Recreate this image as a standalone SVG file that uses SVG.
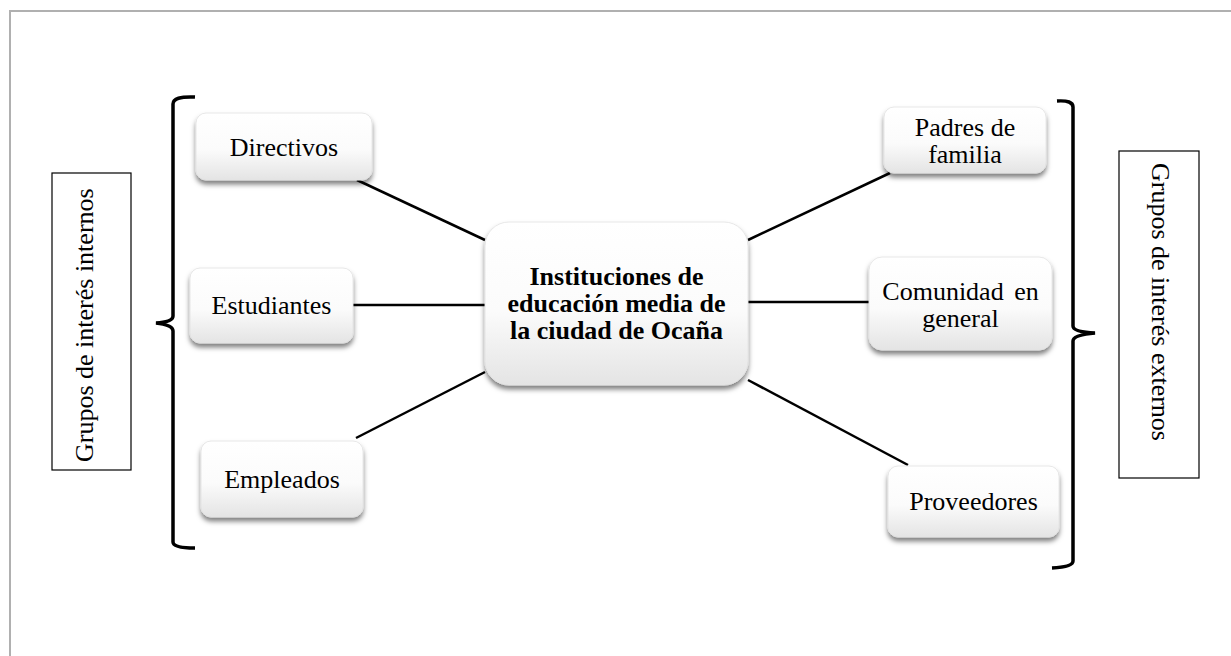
<svg xmlns="http://www.w3.org/2000/svg" width="1231" height="656" viewBox="0 0 1231 656">
<defs>
<linearGradient id="g" x1="0" y1="0" x2="0" y2="1">
<stop offset="0" stop-color="#ffffff"/>
<stop offset="0.55" stop-color="#fbfbfb"/>
<stop offset="1" stop-color="#e4e4e4"/>
</linearGradient>
<filter id="sh" x="-10%" y="-10%" width="120%" height="135%">
<feDropShadow dx="0" dy="4" stdDeviation="2.5" flood-color="#000" flood-opacity="0.5"/>
</filter>
</defs>
<style>
.node{fill:url(#g);stroke:#e2e2e2;stroke-width:0.8;filter:url(#sh)}
.t{font-family:"Liberation Serif","Times New Roman",serif;font-size:26px;fill:#000;text-anchor:middle}
.b{font-weight:bold}
.conn{stroke:#000;stroke-width:2.5;fill:none}
.br{stroke:#000;stroke-width:3.5;fill:none}
.lbl{fill:#fff;stroke:#000;stroke-width:1.2}
.rt{font-family:"Liberation Serif","Times New Roman",serif;font-size:26px;fill:#000}
</style>
<rect width="1231" height="656" fill="#fff"/>
<path d="M10,656 V11 H1231" fill="none" stroke="#b0b0b0" stroke-width="2"/>
<g id="connectors">
<line class="conn" x1="357" y1="180" x2="485" y2="240"/>
<line class="conn" x1="353" y1="305" x2="485" y2="305"/>
<line class="conn" x1="356" y1="438" x2="485" y2="372"/>
<line class="conn" x1="748" y1="240" x2="890" y2="173"/>
<line class="conn" x1="748" y1="302" x2="869" y2="302"/>
<line class="conn" x1="748" y1="380" x2="908" y2="465"/>
</g>
<g id="bracket-left">
<path class="br" d="M195,97 Q173,96 173,104 V316 Q173,322 156,323 Q173,325 173,331 V542 Q173,548 195,548"/>
</g>
<g id="bracket-right">
<path class="br" d="M1057,101 Q1073,100 1073,107 V326 Q1073,332 1095,333 Q1073,335 1073,341 V561 Q1073,567 1052,568"/>
</g>
<g id="label-internos">
<rect class="lbl" x="52" y="173" width="79" height="297"/>
<text class="rt" transform="translate(93,462) rotate(-90)">Grupos de interés internos</text>
</g>
<g id="label-externos">
<rect class="lbl" x="1119" y="151" width="80" height="327"/>
<text class="rt" transform="translate(1152,163) rotate(90)">Grupos de interés externos</text>
</g>
<g id="center">
<rect class="node" x="485" y="222" width="263" height="163" rx="24"/>
<text class="t b" x="616.5" y="285">Instituciones de</text>
<text class="t b" x="616.5" y="312">educación media de</text>
<text class="t b" x="616.5" y="339">la ciudad de Ocaña</text>
</g>
<g id="directivos">
<rect class="node" x="196" y="113" width="176" height="67" rx="10"/>
<text class="t" x="284" y="156">Directivos</text>
</g>
<g id="estudiantes">
<rect class="node" x="190" y="268" width="163" height="75" rx="10"/>
<text class="t" x="271.5" y="314">Estudiantes</text>
</g>
<g id="empleados">
<rect class="node" x="201" y="441" width="162" height="76" rx="10"/>
<text class="t" x="282" y="488">Empleados</text>
</g>
<g id="padres">
<rect class="node" x="884" y="107" width="162" height="66" rx="10"/>
<text class="t" x="965" y="136">Padres de</text>
<text class="t" x="965" y="163">familia</text>
</g>
<g id="comunidad">
<rect class="node" x="869" y="257" width="183" height="93" rx="13"/>
<text class="t" x="960.5" y="300" word-spacing="4">Comunidad en</text>
<text class="t" x="960.5" y="327">general</text>
</g>
<g id="proveedores">
<rect class="node" x="888" y="466" width="171" height="71" rx="10"/>
<text class="t" x="973.5" y="510">Proveedores</text>
</g>
</svg>
